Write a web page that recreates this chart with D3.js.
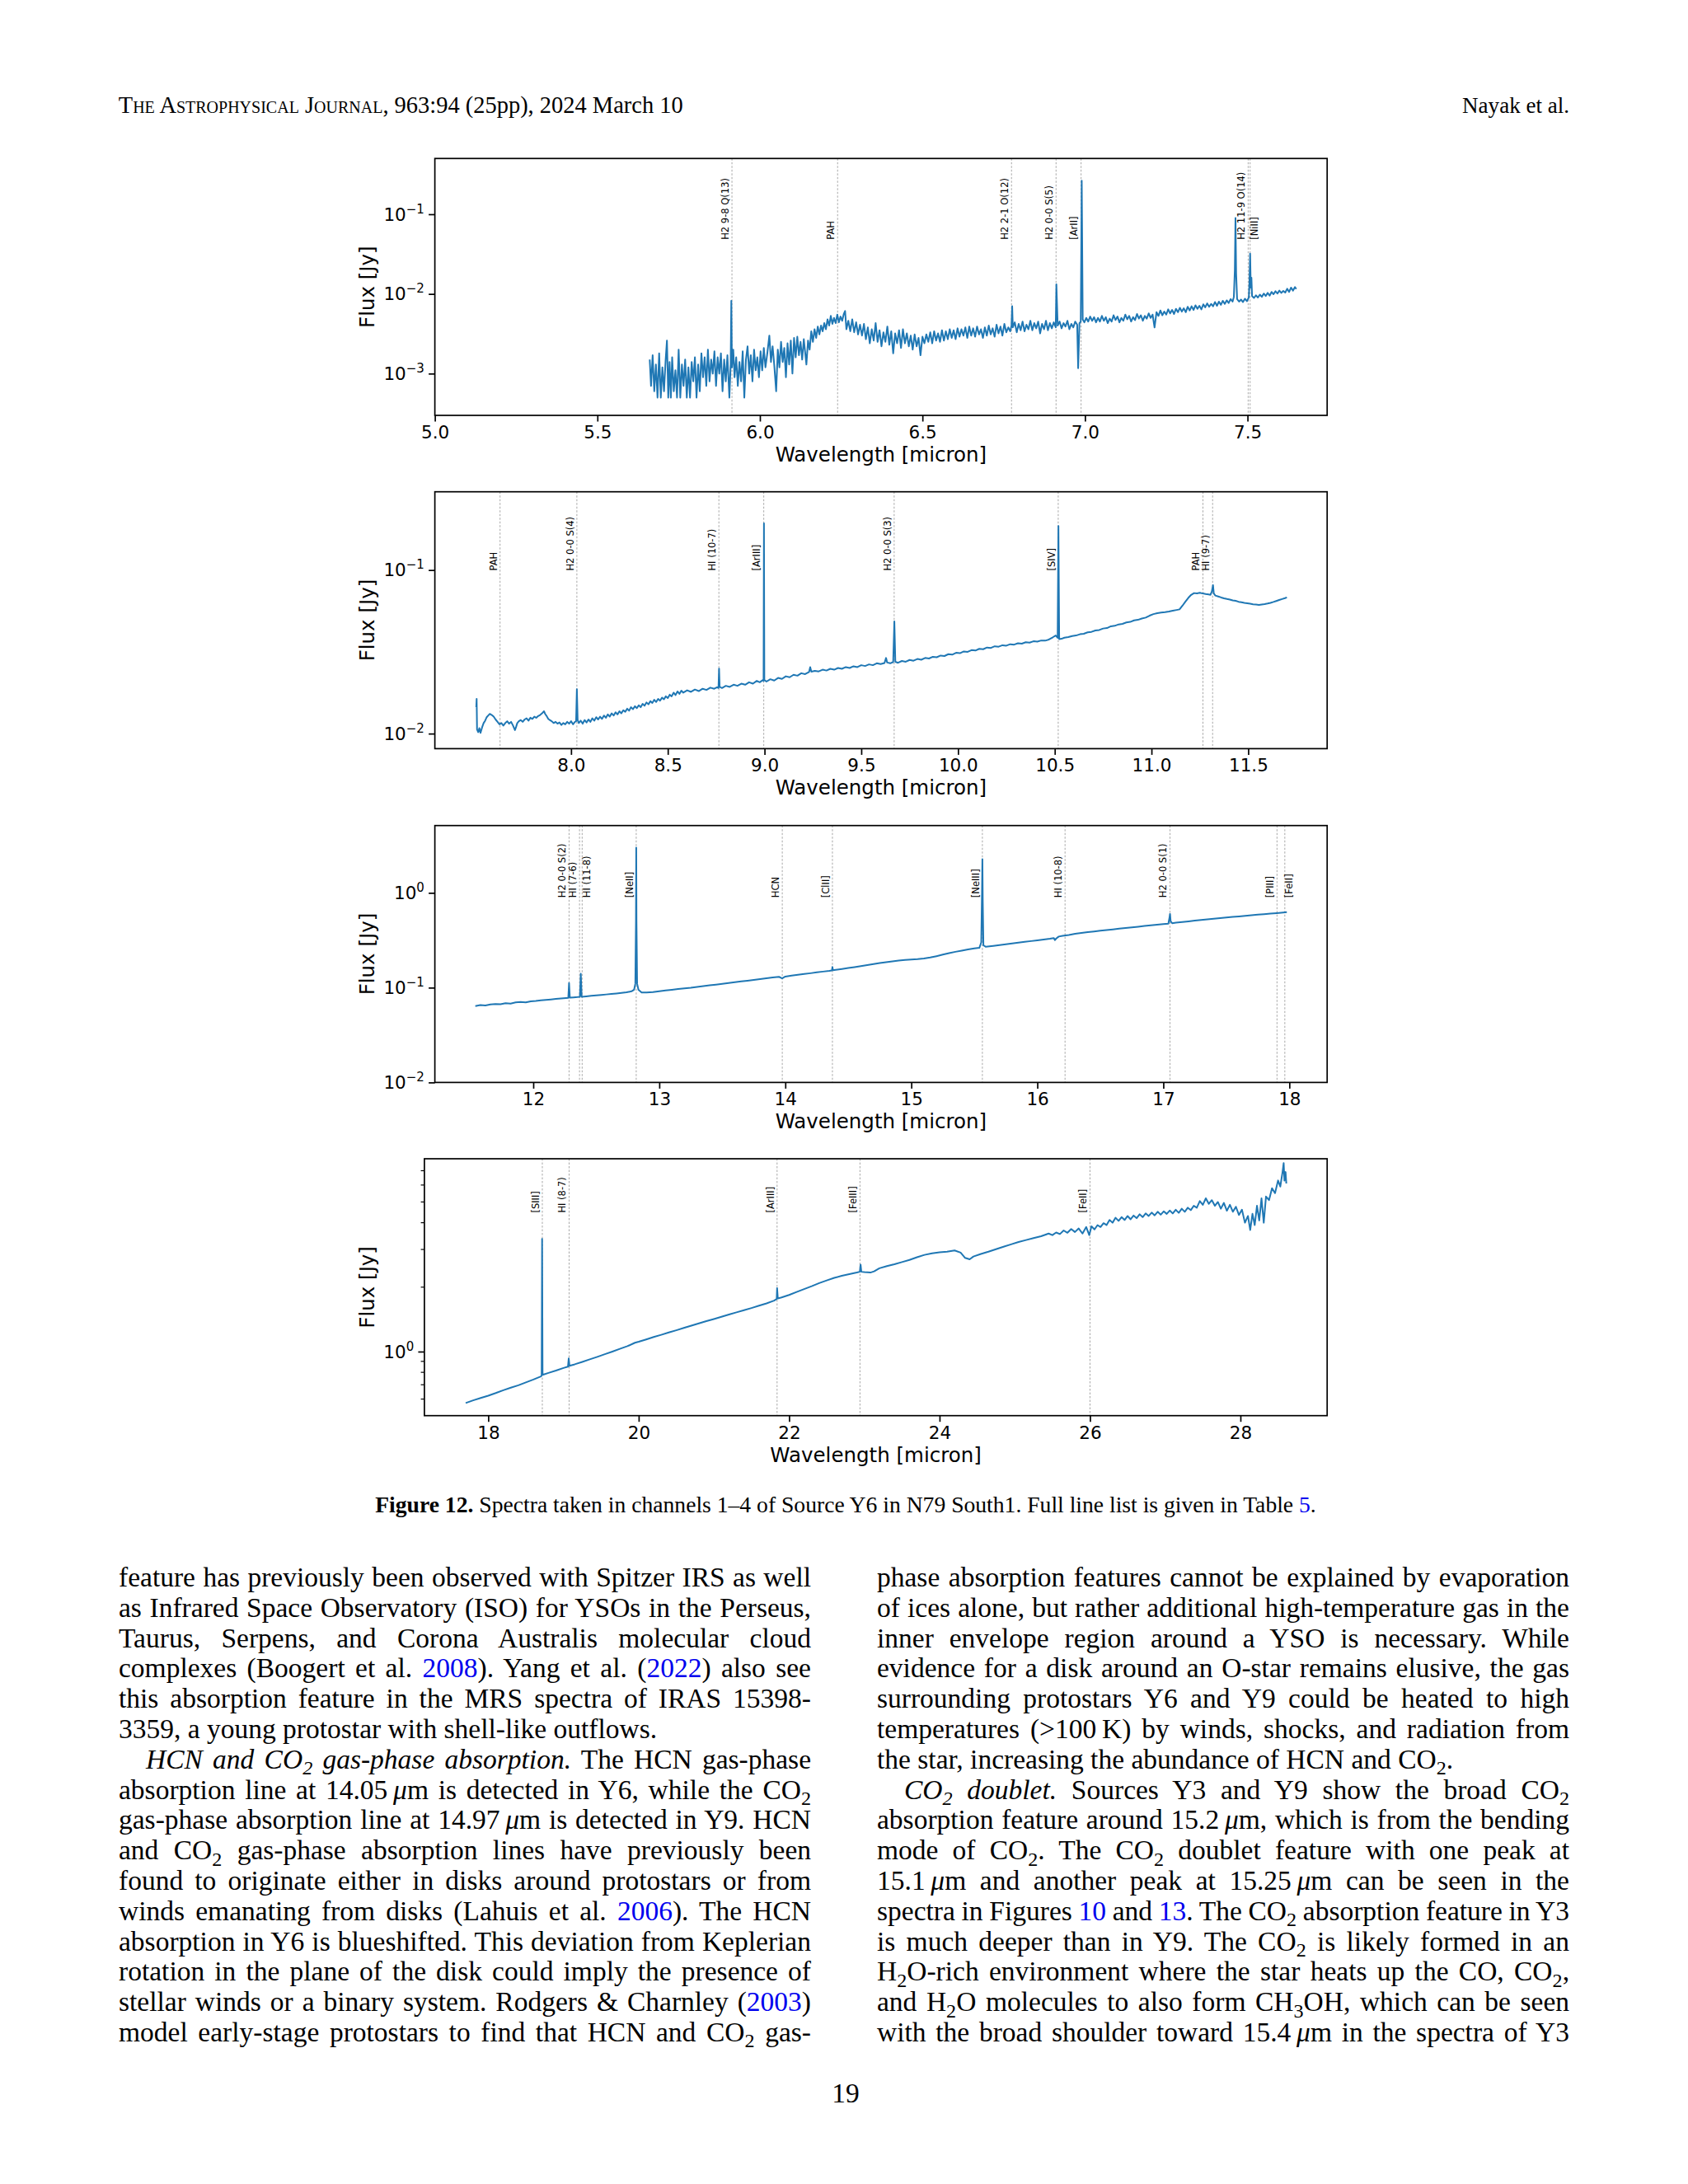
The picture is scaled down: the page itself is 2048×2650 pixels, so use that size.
<!DOCTYPE html>
<html>
<head>
<meta charset="utf-8">
<script src="https://cdn.jsdelivr.net/npm/d3@7"></script>
<style>
  html, body { margin: 0; padding: 0; background: #fff; }
  svg { display: block; }
</style>
</head>
<body>
<div id="chart"></div>
<script>
// ---------------- DATA ----------------
// Channel 1 spectrum: [wavelength (micron), flux (mJy)]
const spec1_mJy = [
[5.661,1.5],[5.665,0.7],[5.670,1.7],[5.675,0.6],[5.680,1.3],[5.685,0.5],[5.690,1.8],[5.695,0.5],[5.700,1.2],[5.705,0.6],
[5.710,1.5],[5.714,2.6],[5.718,0.5],[5.722,1.4],[5.726,0.5],[5.730,1.6],[5.735,0.6],[5.740,1.1],[5.745,0.5],[5.750,2.0],
[5.755,0.5],[5.760,1.3],[5.765,0.7],[5.770,1.5],[5.775,0.5],[5.780,1.2],[5.785,0.5],[5.790,1.4],[5.795,0.8],[5.800,1.6],
[5.805,0.5],[5.810,1.3],[5.815,0.6],[5.820,1.8],[5.825,0.9],[5.830,1.6],[5.835,0.7],[5.840,2.0],[5.845,0.8],[5.850,1.5],
[5.855,1.0],[5.860,1.9],[5.865,0.7],[5.870,1.6],[5.875,1.0],[5.880,1.8],[5.885,0.6],[5.890,1.5],[5.895,0.8],[5.900,1.7],
[5.906,0.5],[5.910,1.3],[5.912,8.2],[5.914,1.2],[5.918,2.0],[5.922,0.9],[5.927,1.6],[5.932,0.7],[5.937,1.4],[5.942,0.8],
[5.947,1.9],[5.952,0.5],[5.957,1.5],[5.962,2.2],[5.967,1.0],[5.972,1.7],[5.977,0.8],[5.982,2.0],[5.987,1.1],[5.992,1.6],
[5.997,0.9],[6.002,1.9],[6.007,1.1],[6.012,2.1],[6.017,1.2],[6.022,1.7],[6.029,3.0],[6.034,1.4],[6.039,2.2],[6.044,1.3],
[6.050,0.6],[6.055,2.0],[6.060,1.2],[6.065,2.5],[6.070,1.4],[6.075,2.1],[6.080,0.9],[6.085,2.4],[6.090,1.3],[6.095,2.6],
[6.100,1.0],[6.105,2.8],[6.110,1.6],[6.115,2.9],[6.120,1.7],[6.125,2.5],[6.130,1.5],[6.135,2.7],[6.143,1.3],[6.148,2.6],
[6.153,2.0],[6.158,3.4],[6.163,2.5],[6.168,3.6],[6.173,2.8],[6.178,3.9],[6.183,3.1],[6.188,4.0],[6.193,3.4],[6.198,4.3],
[6.203,3.6],[6.208,4.8],[6.213,4.0],[6.218,5.3],[6.223,4.2],[6.228,5.0],[6.233,4.3],[6.238,5.5],[6.243,4.4],[6.248,5.2],
[6.253,4.6],[6.258,5.6],[6.262,6.1],[6.266,3.6],[6.272,4.6],[6.278,3.4],[6.284,4.8],[6.290,3.3],[6.296,4.4],[6.302,3.1],
[6.308,4.1],[6.314,3.0],[6.320,4.2],[6.326,2.7],[6.332,3.8],[6.338,2.4],[6.344,3.6],[6.350,2.6],[6.356,4.3],[6.362,2.5],
[6.368,3.5],[6.374,2.2],[6.380,3.3],[6.386,2.5],[6.392,3.9],[6.398,2.3],[6.404,3.4],[6.410,1.8],[6.416,3.2],[6.422,2.4],
[6.428,3.5],[6.434,2.1],[6.440,3.6],[6.446,2.4],[6.452,3.2],[6.458,2.2],[6.464,3.0],[6.470,2.0],[6.476,3.1],[6.482,2.2],
[6.488,2.8],[6.494,1.7],[6.500,2.9],[6.506,2.4],[6.512,3.1],[6.518,2.5],[6.524,3.3],[6.530,2.4],[6.536,3.4],[6.542,2.6],
[6.548,3.2],[6.554,2.5],[6.560,3.5],[6.566,2.6],[6.572,3.4],[6.578,2.7],[6.584,3.6],[6.590,2.8],[6.596,3.5],[6.602,2.7],
[6.608,3.7],[6.614,2.9],[6.620,3.6],[6.626,3.0],[6.632,3.8],[6.638,2.8],[6.644,3.9],[6.650,3.0],[6.656,3.7],[6.662,2.9],
[6.668,3.9],[6.674,3.1],[6.680,3.6],[6.686,2.8],[6.692,3.8],[6.698,3.0],[6.704,4.0],[6.710,3.1],[6.716,3.7],[6.722,2.9],
[6.728,4.1],[6.734,3.2],[6.740,3.9],[6.746,3.0],[6.752,4.2],[6.758,3.3],[6.764,3.8],[6.770,3.4],[6.774,4.0],[6.776,7.0],
[6.778,3.8],[6.784,4.4],[6.790,3.3],[6.796,4.2],[6.802,3.5],[6.808,4.5],[6.814,3.4],[6.820,4.1],[6.826,3.6],[6.832,4.6],
[6.838,3.5],[6.844,4.3],[6.850,3.7],[6.856,4.5],[6.862,3.2],[6.868,4.2],[6.874,3.6],[6.880,4.6],[6.886,3.5],[6.892,4.3],
[6.898,3.7],[6.904,4.4],[6.910,3.8],[6.912,13.2],[6.916,4.0],[6.922,4.5],[6.928,3.7],[6.934,4.3],[6.940,3.9],[6.946,4.6],
[6.952,3.6],[6.958,4.2],[6.964,3.8],[6.970,4.5],[6.976,4.1],[6.979,1.17],[6.983,4.3],[6.987,4.5],[6.990,264],[6.993,4.8],
[6.998,4.4],[7.004,5.0],[7.010,4.5],[7.016,5.2],[7.022,4.6],[7.028,5.1],[7.034,4.4],[7.040,5.0],[7.046,4.5],[7.052,5.3],
[7.058,4.6],[7.064,5.1],[7.070,4.3],[7.076,4.9],[7.082,4.5],[7.088,5.4],[7.094,4.7],[7.100,5.2],[7.106,4.4],[7.112,5.0],
[7.118,4.6],[7.124,5.5],[7.130,4.8],[7.136,5.3],[7.142,4.5],[7.148,5.1],[7.154,4.7],[7.160,5.6],[7.166,4.9],[7.172,5.4],
[7.178,4.6],[7.184,5.3],[7.190,4.9],[7.196,5.7],[7.202,5.0],[7.208,5.5],[7.214,3.8],[7.220,5.9],[7.226,5.3],[7.232,6.2],
[7.238,5.4],[7.244,6.0],[7.250,5.5],[7.256,6.4],[7.262,5.7],[7.268,6.3],[7.274,5.6],[7.280,6.5],[7.286,5.9],[7.292,6.7],
[7.298,6.0],[7.304,6.6],[7.310,5.9],[7.316,6.9],[7.322,6.2],[7.328,7.0],[7.334,6.3],[7.340,7.2],[7.346,6.5],[7.352,7.1],
[7.358,6.4],[7.364,7.4],[7.370,6.8],[7.376,7.6],[7.382,6.9],[7.388,7.5],[7.394,7.0],[7.400,7.9],[7.406,7.1],[7.412,8.0],
[7.418,7.3],[7.424,8.2],[7.430,7.5],[7.436,8.3],[7.442,7.7],[7.448,8.6],[7.454,8.0],[7.458,9.2],[7.461,20],[7.463,90],
[7.465,18],[7.468,8.6],[7.474,8.0],[7.480,8.5],[7.486,7.9],[7.492,8.7],[7.498,8.1],[7.504,9.0],[7.506,14],[7.508,32],
[7.510,12],[7.512,16],[7.514,9.4],[7.520,8.9],[7.526,9.6],[7.532,9.0],[7.538,9.8],[7.544,9.2],[7.550,10.1],[7.556,9.4],
[7.562,10.3],[7.568,9.5],[7.574,10.6],[7.580,9.9],[7.586,10.8],[7.592,10.1],[7.598,11.0],[7.604,10.3],[7.610,10.9],[7.616,10.4],
[7.622,11.6],[7.628,10.6],[7.634,12.0],[7.640,11.0],[7.646,12.2],[7.650,11.5]
];

// Channel 2 spectrum: [wavelength (micron), flux (mJy)]
const spec2_mJy = [
[7.510,14.5],[7.512,16.3],[7.514,10.6],[7.520,10.2],[7.526,10.8],[7.532,10.1],[7.540,10.9],[7.548,11.6],[7.556,12.0],[7.564,12.6],
[7.572,12.9],[7.580,13.2],[7.590,13.0],[7.600,12.7],[7.610,12.2],[7.620,11.8],[7.630,11.4],[7.640,11.6],[7.650,11.2],[7.660,11.6],
[7.670,11.9],[7.680,11.5],[7.690,11.8],[7.700,11.2],[7.710,10.5],[7.716,11.0],[7.722,11.6],[7.730,11.9],[7.740,12.1],[7.750,11.8],
[7.760,12.2],[7.770,12.4],[7.780,12.0],[7.790,12.5],[7.800,12.3],[7.810,12.7],[7.820,12.5],[7.830,12.8],[7.840,13.0],[7.850,13.3],
[7.860,13.7],[7.866,13.2],[7.874,12.8],[7.882,12.3],[7.890,12.1],[7.900,11.9],[7.910,11.6],[7.920,11.8],[7.930,11.5],[7.940,11.7],
[7.950,11.3],[7.960,11.6],[7.970,11.4],[7.980,11.8],[7.990,11.5],[8.000,11.9],[8.010,11.4],[8.020,11.8],[8.026,11.9],[8.030,18.7],
[8.034,12.1],[8.040,11.6],[8.050,12.0],[8.060,11.5],[8.070,12.1],[8.080,11.7],[8.090,12.2],[8.100,11.8],[8.110,12.4],[8.120,12.0],
[8.130,12.6],[8.140,12.2],[8.150,12.7],[8.160,12.3],[8.170,12.9],[8.180,12.5],[8.190,13.1],[8.200,12.7],[8.210,13.3],[8.220,12.9],
[8.230,13.5],[8.240,13.1],[8.250,13.7],[8.260,13.3],[8.270,13.9],[8.280,13.6],[8.290,14.2],[8.300,13.8],[8.310,14.5],[8.320,14.1],
[8.330,14.7],[8.340,14.3],[8.350,14.9],[8.360,14.5],[8.370,15.2],[8.380,14.8],[8.390,15.5],[8.400,15.1],[8.410,15.8],[8.420,15.4],
[8.430,16.1],[8.440,15.6],[8.450,16.3],[8.460,15.9],[8.470,16.6],[8.480,16.2],[8.490,16.9],[8.500,16.5],[8.510,17.3],[8.520,16.9],
[8.530,17.8],[8.540,17.2],[8.550,18.1],[8.560,17.5],[8.570,18.3],[8.580,17.8],[8.600,18.4],[8.620,18.0],[8.640,18.6],[8.660,18.2],
[8.680,18.8],[8.700,18.5],[8.720,19.1],[8.740,18.8],[8.755,19.2],[8.762,19.0],[8.765,25.0],[8.768,19.3],[8.780,19.0],[8.800,19.6],
[8.820,19.3],[8.840,19.9],[8.860,19.6],[8.880,20.2],[8.900,19.9],[8.920,20.6],[8.940,20.2],[8.960,21.0],[8.975,20.6],[8.990,21.2],
[8.995,21.0],[8.997,193],[8.999,21.3],[9.010,20.8],[9.030,21.5],[9.050,21.1],[9.070,21.9],[9.090,21.6],[9.110,22.4],[9.130,22.1],
[9.150,22.9],[9.170,22.6],[9.190,23.4],[9.210,23.1],[9.230,23.8],[9.236,25.5],[9.242,23.9],[9.260,24.2],[9.280,24.0],[9.300,24.6],
[9.320,24.3],[9.340,24.9],[9.360,24.6],[9.380,25.2],[9.400,24.9],[9.420,25.5],[9.440,25.2],[9.460,25.8],[9.480,25.5],[9.500,26.2],
[9.520,25.9],[9.540,26.5],[9.560,26.2],[9.580,26.9],[9.600,26.6],[9.620,27.0],[9.628,29.0],[9.634,27.2],[9.650,26.9],[9.665,27.4],
[9.671,48.5],[9.676,27.5],[9.690,27.1],[9.710,27.8],[9.730,27.5],[9.750,28.2],[9.770,27.9],[9.790,28.6],[9.810,28.3],[9.830,29.0],
[9.850,28.8],[9.870,29.5],[9.890,29.3],[9.910,30.0],[9.930,29.8],[9.950,30.6],[9.970,30.4],[9.990,31.2],[10.010,31.0],[10.030,31.8],
[10.050,31.6],[10.070,32.4],[10.090,32.2],[10.110,33.0],[10.130,32.8],[10.150,33.6],[10.170,33.4],[10.190,34.2],[10.210,34.0],[10.230,34.7],
[10.250,34.5],[10.270,35.2],[10.290,35.0],[10.310,35.7],[10.330,35.5],[10.350,36.2],[10.370,36.0],[10.390,36.7],[10.410,36.5],[10.430,37.1],
[10.450,37.0],[10.470,37.6],[10.490,38.8],[10.505,39.8],[10.515,38.5],[10.519,186],[10.523,37.8],[10.535,38.0],[10.550,38.6],[10.570,38.9],
[10.590,39.5],[10.610,39.8],[10.630,40.5],[10.650,40.8],[10.670,41.6],[10.690,41.9],[10.710,42.7],[10.730,43.0],[10.750,43.9],[10.770,44.2],
[10.790,45.3],[10.810,45.6],[10.830,46.5],[10.850,46.9],[10.870,47.8],[10.890,48.2],[10.910,49.2],[10.930,49.6],[10.950,50.5],[10.970,51.2],
[10.990,52.6],[11.010,53.8],[11.030,54.5],[11.050,54.9],[11.070,55.3],[11.090,55.8],[11.110,56.4],[11.130,57.0],[11.145,57.5],[11.160,60.5],
[11.175,64.0],[11.190,67.5],[11.205,70.5],[11.220,72.3],[11.235,72.0],[11.250,72.6],[11.265,71.9],[11.280,71.4],[11.295,71.0],[11.305,70.6],
[11.312,74],[11.318,80.9],[11.322,72],[11.330,69.8],[11.345,68.9],[11.360,68.0],[11.375,67.2],[11.390,66.5],[11.405,66.0],[11.420,65.2],
[11.435,64.8],[11.450,64.0],[11.465,63.6],[11.480,63.0],[11.495,62.6],[11.510,62.2],[11.525,61.8],[11.540,61.5],[11.555,61.2],[11.570,61.6],
[11.585,61.9],[11.600,62.4],[11.615,63.0],[11.630,63.8],[11.645,64.7],[11.660,65.6],[11.675,66.5],[11.690,67.3],[11.700,68.0]
];

// Channel 3 spectrum: [wavelength (micron), flux (Jy)]
const spec3_Jy = [
[11.540,0.0640],[11.580,0.0655],[11.620,0.0650],[11.660,0.0665],[11.700,0.0672],[11.740,0.0668],[11.780,0.0685],[11.820,0.0680],
[11.860,0.0698],[11.900,0.0705],[11.940,0.0700],[11.980,0.0718],[12.020,0.0725],[12.060,0.0735],[12.100,0.0742],[12.140,0.0750],
[12.180,0.0760],[12.220,0.0770],[12.260,0.0778],[12.278,0.0782],[12.284,0.112],[12.290,0.0785],[12.320,0.0790],[12.350,0.0795],
[12.370,0.0800],[12.377,0.140],[12.384,0.0802],[12.420,0.0810],[12.460,0.0820],[12.500,0.0830],[12.540,0.0838],[12.580,0.0848],
[12.620,0.0858],[12.660,0.0868],[12.700,0.0880],[12.740,0.0892],[12.780,0.0915],[12.800,0.0950],[12.810,0.110],[12.815,0.50],
[12.817,3.0],[12.819,0.50],[12.824,0.110],[12.835,0.095],[12.860,0.0890],[12.900,0.0888],[12.950,0.0900],[13.000,0.0918],
[13.050,0.0935],[13.100,0.0950],[13.150,0.0968],[13.200,0.0985],[13.250,0.1000],[13.300,0.1020],[13.350,0.1038],[13.400,0.1058],
[13.450,0.1078],[13.500,0.1098],[13.550,0.1120],[13.600,0.1142],[13.650,0.1165],[13.700,0.1185],[13.750,0.1208],[13.800,0.1230],
[13.850,0.1255],[13.900,0.1280],[13.950,0.1300],[13.975,0.1255],[14.000,0.1310],[14.050,0.1340],[14.100,0.1368],[14.150,0.1395],
[14.200,0.1420],[14.250,0.1450],[14.300,0.1478],[14.350,0.1505],[14.370,0.1520],[14.374,0.1650],[14.378,0.1530],[14.400,0.1545],
[14.450,0.1575],[14.500,0.1610],[14.550,0.1648],[14.600,0.1690],[14.650,0.1730],[14.700,0.1772],[14.750,0.1815],[14.800,0.1858],
[14.850,0.1895],[14.900,0.1930],[14.950,0.1958],[15.000,0.1980],[15.050,0.2000],[15.100,0.2030],[15.150,0.2080],[15.200,0.2150],
[15.250,0.2230],[15.300,0.2310],[15.350,0.2390],[15.400,0.2460],[15.450,0.2530],[15.500,0.2590],[15.540,0.2630],[15.555,0.300],
[15.561,1.0],[15.564,2.27],[15.567,0.80],[15.572,0.280],[15.590,0.2700],[15.650,0.2760],[15.700,0.2810],[15.750,0.2865],
[15.800,0.2920],[15.850,0.2980],[15.900,0.3040],[15.950,0.3100],[16.000,0.3160],[16.050,0.3220],[16.100,0.3290],[16.130,0.3340],
[16.140,0.3180],[16.150,0.3300],[16.170,0.3460],[16.200,0.3520],[16.250,0.3600],[16.300,0.3700],[16.350,0.3780],[16.400,0.3860],
[16.450,0.3920],[16.500,0.3985],[16.550,0.4050],[16.600,0.4120],[16.650,0.4190],[16.700,0.4260],[16.750,0.4330],[16.800,0.4400],
[16.850,0.4470],[16.900,0.4540],[16.950,0.4610],[17.000,0.4680],[17.040,0.4730],[17.050,0.560],[17.053,0.600],[17.058,0.500],
[17.070,0.4790],[17.100,0.4850],[17.150,0.4930],[17.200,0.5010],[17.250,0.5090],[17.300,0.5170],[17.350,0.5250],[17.400,0.5330],
[17.450,0.5410],[17.500,0.5490],[17.550,0.5570],[17.600,0.5650],[17.650,0.5730],[17.700,0.5810],[17.750,0.5890],[17.800,0.5970],
[17.850,0.6050],[17.900,0.6120],[17.950,0.6200],[17.980,0.6250]
];

// Channel 4 spectrum: [wavelength (micron), flux (Jy)]
const spec4_Jy = [
[17.70,0.575],[17.80,0.592],[17.90,0.607],[18.00,0.622],[18.10,0.640],[18.20,0.660],[18.30,0.678],[18.40,0.696],[18.50,0.718],
[18.60,0.740],[18.70,0.765],[18.710,0.772],[18.716,3.36],[18.722,0.79],[18.730,0.780],[18.80,0.795],[18.90,0.815],[19.00,0.838],
[19.060,0.850],[19.070,0.930],[19.080,0.858],[19.15,0.872],[19.25,0.895],[19.35,0.920],[19.45,0.945],[19.55,0.972],[19.65,1.000],
[19.75,1.030],[19.85,1.060],[19.95,1.100],[20.00,1.112],[20.10,1.140],[20.20,1.170],[20.30,1.198],[20.40,1.228],[20.50,1.258],
[20.60,1.290],[20.70,1.322],[20.80,1.355],[20.90,1.388],[21.00,1.420],[21.10,1.455],[21.20,1.490],[21.30,1.525],[21.40,1.560],
[21.50,1.598],[21.60,1.640],[21.70,1.680],[21.80,1.730],[21.835,1.760],[21.840,1.980],[21.850,1.770],[21.900,1.790],[22.00,1.840],
[22.10,1.900],[22.20,1.960],[22.30,2.020],[22.40,2.090],[22.50,2.150],[22.60,2.210],[22.70,2.260],[22.80,2.300],[22.90,2.340],
[22.940,2.360],[22.950,2.550],[22.960,2.360],[23.00,2.350],[23.08,2.340],[23.13,2.370],[23.20,2.450],[23.30,2.510],[23.40,2.560],
[23.50,2.620],[23.60,2.680],[23.70,2.760],[23.80,2.830],[23.90,2.880],[24.00,2.910],[24.10,2.930],[24.20,2.970],[24.28,2.900],
[24.34,2.740],[24.40,2.700],[24.45,2.780],[24.55,2.860],[24.65,2.930],[24.75,3.010],[24.85,3.090],[24.95,3.170],[25.05,3.250],
[25.15,3.320],[25.25,3.390],[25.35,3.460],[25.45,3.560],[25.50,3.500],[25.55,3.600],[25.60,3.540],[25.65,3.680],[25.70,3.590],
[25.75,3.740],[25.80,3.620],[25.85,3.760],[25.90,3.560],[25.95,3.820],[25.99,3.500],[26.02,3.850],[26.06,3.720],[26.10,3.900],
[26.14,3.820],[26.18,3.980],[26.22,3.900],[26.26,4.120],[26.30,4.000],[26.34,4.220],[26.38,4.080],[26.42,4.250],[26.46,4.120],
[26.50,4.300],[26.54,4.150],[26.58,4.320],[26.62,4.200],[26.66,4.380],[26.70,4.250],[26.74,4.420],[26.78,4.300],[26.82,4.460],
[26.86,4.330],[26.90,4.500],[26.94,4.360],[26.98,4.520],[27.02,4.400],[27.06,4.560],[27.10,4.420],[27.14,4.600],[27.18,4.450],
[27.22,4.650],[27.26,4.500],[27.30,4.700],[27.34,4.580],[27.38,4.800],[27.42,4.700],[27.46,5.050],[27.50,4.850],[27.54,5.200],
[27.58,4.900],[27.62,5.100],[27.66,4.800],[27.70,5.000],[27.74,4.650],[27.78,4.950],[27.82,4.550],[27.86,4.850],[27.90,4.500],
[27.94,4.750],[27.98,4.350],[28.02,4.600],[28.06,4.000],[28.10,4.300],[28.13,3.700],[28.16,4.400],[28.19,3.900],[28.22,4.800],
[28.25,4.100],[28.28,5.200],[28.31,4.000],[28.34,5.300],[28.38,5.100],[28.42,5.800],[28.46,5.500],[28.50,6.300],[28.53,5.900],
[28.56,6.900],[28.575,7.600],[28.585,6.300],[28.60,6.900],[28.61,6.100]
];

// Line identifications: [label, wavelength (micron)]
const lines1 = [["H2 9-8 Q(13)",5.914],["PAH",6.239],["H2 2-1 O(12)",6.774],["H2 0-0 S(5)",6.911],["[ArII]",6.988],["H2 11-9 O(14)",7.502],["[NiII]",7.508]];
const lines2 = [["PAH",7.633],["H2 0-0 S(4)",8.030],["HI (10-7)",8.764],["[ArIII]",8.996],["H2 0-0 S(3)",9.670],["[SIV]",10.518],["PAH",11.266],["HI (9-7)",11.316]];
const lines3 = [["H2 0-0 S(2)",12.284],["HI (7-6)",12.367],["HI (11-8)",12.388],["[NeII]",12.817],["HCN",13.976],["[ClII]",14.374],["[NeIII]",15.564],["HI (10-8)",16.220],["H2 0-0 S(1)",17.053],["[PIII]",17.902],["[FeII]",17.964]];
const lines4 = [["[SIII]",18.719],["HI (8-7)",19.075],["[ArIII]",21.840],["[FeIII]",22.942],["[FeII]",26.000]];

// Axis limits and ticks
const xLim1 = [5.0, 7.745],  yLim1 = [2.99e-4, 0.501];
const xLim2 = [7.296, 11.908], yLim2 = [8.09e-3, 0.301];
const xLim3 = [11.219, 18.30], yLim3 = [0.01, 5.13];
const xLim4 = [17.151, 29.153], yLim4 = [0.502, 7.96];
const xTicks1 = [5.0, 5.5, 6.0, 6.5, 7.0, 7.5];
const xTicks2 = [8.0, 8.5, 9.0, 9.5, 10.0, 10.5, 11.0, 11.5];
const xTicks3 = [12, 13, 14, 15, 16, 17, 18];
const xTicks4 = [18, 20, 22, 24, 26, 28];
const yTicks1 = [1e-3, 1e-2, 1e-1];
const yTicks2 = [1e-2, 1e-1];
const yTicks3 = [1e-2, 1e-1, 1];
const yTicks4 = [1];
const yMinor4 = [0.6, 0.7, 0.8, 0.9, 2, 3, 4, 5, 6, 7];
// flux level (Jy) where the rotated line labels start
const labelLevel = [0.048, 0.099, 0.89, 4.45];

const xLabelText = "Wavelength [micron]";
const yLabelText = "Flux [Jy]";

// Page text
const headerLeft = "The Astrophysical Journal";
const headerRest = ", 963:94 (25pp), 2024 March 10";
const headerRight = "Nayak et al.";
const captionText = "<b>Figure 12.</b> Spectra taken in channels 1–4 of Source Y6 in N79 South1. Full line list is given in Table <a>5</a>.";
const pageNumber = "19";
// [text, justified, indented]
const colLeft = [
 ["feature has previously been observed with Spitzer IRS as well", true, false],
 ["as Infrared Space Observatory (ISO) for YSOs in the Perseus,", true, false],
 ["Taurus, Serpens, and Corona Australis molecular cloud", true, false],
 ["complexes (Boogert et al. <a>2008</a>). Yang et al. (<a>2022</a>) also see", true, false],
 ["this absorption feature in the MRS spectra of IRAS 15398-", true, false],
 ["3359, a young protostar with shell-like outflows.", false, false],
 ["<i>HCN and CO<sub>2</sub> gas-phase absorption.</i> The HCN gas-phase", true, true],
 ["absorption line at 14.05\u2009<i>μ</i>m is detected in Y6, while the CO<sub>2</sub>", true, false],
 ["gas-phase absorption line at 14.97\u2009<i>μ</i>m is detected in Y9. HCN", true, false],
 ["and CO<sub>2</sub> gas-phase absorption lines have previously been", true, false],
 ["found to originate either in disks around protostars or from", true, false],
 ["winds emanating from disks (Lahuis et al. <a>2006</a>). The HCN", true, false],
 ["absorption in Y6 is blueshifted. This deviation from Keplerian", true, false],
 ["rotation in the plane of the disk could imply the presence of", true, false],
 ["stellar winds or a binary system. Rodgers & Charnley (<a>2003</a>)", true, false],
 ["model early-stage protostars to find that HCN and CO<sub>2</sub> gas-", true, false]
];
const colRight = [
 ["phase absorption features cannot be explained by evaporation", true, false],
 ["of ices alone, but rather additional high-temperature gas in the", true, false],
 ["inner envelope region around a YSO is necessary. While", true, false],
 ["evidence for a disk around an O-star remains elusive, the gas", true, false],
 ["surrounding protostars Y6 and Y9 could be heated to high", true, false],
 ["temperatures (>100\u2009K) by winds, shocks, and radiation from", true, false],
 ["the star, increasing the abundance of HCN and CO<sub>2</sub>.", false, false],
 ["<i>CO<sub>2</sub> doublet.</i> Sources Y3 and Y9 show the broad CO<sub>2</sub>", true, true],
 ["absorption feature around 15.2\u2009<i>μ</i>m, which is from the bending", true, false],
 ["mode of CO<sub>2</sub>. The CO<sub>2</sub> doublet feature with one peak at", true, false],
 ["15.1\u2009<i>μ</i>m and another peak at 15.25\u2009<i>μ</i>m can be seen in the", true, false],
 ["spectra in Figures <a>10</a> and <a>13</a>. The CO<sub>2</sub> absorption feature in Y3", true, false],
 ["is much deeper than in Y9. The CO<sub>2</sub> is likely formed in an", true, false],
 ["H<sub>2</sub>O-rich environment where the star heats up the CO, CO<sub>2</sub>,", true, false],
 ["and H<sub>2</sub>O molecules to also form CH<sub>3</sub>OH, which can be seen", true, false],
 ["with the broad shoulder toward 15.4\u2009<i>μ</i>m in the spectra of Y3", true, false]
];

// ---------------- LAYOUT ----------------
const W = 2048, Hpage = 2650;
const AX_FONT = "'DejaVu Sans', sans-serif";
const PG_FONT = "'Liberation Serif', 'Times New Roman', serif";
const LINK = "#0000ee";
const BLUE = "#1f77b4";
const RIGHT = 1610.2, PH = 311.7;
const TICK_FS = 21.5, LAB_FS = 24.5, LINE_FS = 11.5;

const panels = [
  {spec: spec1_mJy, unit: 1e-3, xLim: xLim1, yLim: yLim1, xTicks: xTicks1, yTicks: yTicks1, yMinor: [], fmt: ".1f", lines: lines1, lab: labelLevel[0], left: 527.6, top: 192.3},
  {spec: spec2_mJy, unit: 1e-3, xLim: xLim2, yLim: yLim2, xTicks: xTicks2, yTicks: yTicks2, yMinor: [], fmt: ".1f", lines: lines2, lab: labelLevel[1], left: 527.6, top: 596.7},
  {spec: spec3_Jy, unit: 1, xLim: xLim3, yLim: yLim3, xTicks: xTicks3, yTicks: yTicks3, yMinor: [], fmt: "d", lines: lines3, lab: labelLevel[2], left: 527.6, top: 1001.7},
  {spec: spec4_Jy, unit: 1, xLim: xLim4, yLim: yLim4, xTicks: xTicks4, yTicks: yTicks4, yMinor: yMinor4, fmt: "d", lines: lines4, lab: labelLevel[3], left: 514.9, top: 1406.0}
];

const svg = d3.select("#chart").append("svg").attr("width", W).attr("height", Hpage);
svg.append("rect").attr("width", W).attr("height", Hpage).attr("fill", "#fff");

panels.forEach((p, i) => {
  const x = d3.scaleLinear().domain(p.xLim).range([p.left, RIGHT]);
  const y = d3.scaleLog().domain(p.yLim).range([p.top + PH, p.top]);
  const g = svg.append("g");
  const clipId = "clip" + i;
  g.append("clipPath").attr("id", clipId).append("rect")
    .attr("x", p.left).attr("y", p.top).attr("width", RIGHT - p.left).attr("height", PH);

  // vertical line markers
  g.selectAll("line.mark").data(p.lines).join("line").attr("class", "mark")
    .attr("x1", d => x(d[1])).attr("x2", d => x(d[1]))
    .attr("y1", p.top).attr("y2", p.top + PH)
    .attr("stroke", "#a8a8a8").attr("stroke-width", 1).attr("stroke-dasharray", "2.5,2");

  // spectrum
  const line = d3.line().x(d => x(d[0])).y(d => y(d[1] * p.unit));
  g.append("path").datum(p.spec).attr("d", line).attr("clip-path", `url(#${clipId})`)
    .attr("fill", "none").attr("stroke", BLUE).attr("stroke-width", 2)
    .attr("stroke-linejoin", "round");

  // line labels (rotated), shifted to the right of the marker if they would overlap the previous one
  let prevRight = -Infinity;
  p.lines.forEach(([name, w]) => {
    const lx = x(w);
    let base = lx - 4.2;
    let leftEdge = base - 0.76 * LINE_FS;
    if (leftEdge < prevRight - 1) {
      leftEdge = lx + 0.5;
      base = leftEdge + 0.76 * LINE_FS;
    }
    prevRight = base + 0.24 * LINE_FS;
    g.append("text").attr("transform", `translate(${base},${y(p.lab)}) rotate(-90)`)
      .attr("font-family", AX_FONT).attr("font-size", LINE_FS).attr("fill", "#000")
      .text(name);
  });

  // x axis
  const xa = g.append("g").attr("transform", `translate(0,${p.top + PH})`)
    .call(d3.axisBottom(x).tickValues(p.xTicks).tickSize(7.5).tickPadding(5.2).tickFormat(d3.format(p.fmt)));
  xa.select(".domain").remove();
  xa.selectAll("line").attr("stroke", "#000").attr("stroke-width", 1.7);
  xa.selectAll("text").attr("font-family", AX_FONT).attr("font-size", TICK_FS).attr("fill", "#000");

  // y axis (major ticks, labels as 10^n)
  const ya = g.append("g").attr("transform", `translate(${p.left},0)`)
    .call(d3.axisLeft(y).tickValues(p.yTicks).tickSize(7.5).tickFormat(""));
  ya.select(".domain").remove();
  ya.selectAll("line").attr("stroke", "#000").attr("stroke-width", 1.7);
  p.yTicks.forEach(v => {
    const e = Math.round(Math.log10(v));
    const t = g.append("text").attr("x", p.left - 12.7).attr("y", y(v) + 7.8)
      .attr("text-anchor", "end").attr("font-family", AX_FONT).attr("font-size", TICK_FS).attr("fill", "#000");
    t.append("tspan").text("10");
    t.append("tspan").attr("dy", -9).attr("font-size", 15).text(e < 0 ? "\u2212" + (-e) : String(e));
  });
  // minor y ticks
  g.selectAll("line.minor").data(p.yMinor).join("line").attr("class", "minor")
    .attr("x1", p.left - 4.3).attr("x2", p.left).attr("y1", d => y(d)).attr("y2", d => y(d))
    .attr("stroke", "#000").attr("stroke-width", 1.2);

  // frame
  g.append("rect").attr("x", p.left).attr("y", p.top).attr("width", RIGHT - p.left).attr("height", PH)
    .attr("fill", "none").attr("stroke", "#000").attr("stroke-width", 1.7);

  // axis labels
  g.append("text").attr("x", (p.left + RIGHT) / 2).attr("y", p.top + PH + 56)
    .attr("text-anchor", "middle").attr("font-family", AX_FONT).attr("font-size", LAB_FS).attr("fill", "#000")
    .text(xLabelText);
  g.append("text").attr("transform", `translate(454,${p.top + PH / 2}) rotate(-90)`)
    .attr("text-anchor", "middle").attr("font-family", AX_FONT).attr("font-size", LAB_FS).attr("fill", "#000")
    .text(yLabelText);
});

// ---------------- PAGE TEXT ----------------
function richText(parent, str, xPos, yPos, fs, anchor) {
  const t = parent.append("text").attr("x", xPos).attr("y", yPos)
    .attr("font-family", PG_FONT).attr("font-size", fs).attr("fill", "#000");
  if (anchor) t.attr("text-anchor", anchor);
  const parts = str.split(/(<\/?(?:i|sub|a|b)>)/);
  const st = {i: false, sub: false, a: false, b: false};
  let shift = 0;
  parts.forEach(part => {
    const m = part.match(/^<(\/?)(i|sub|a|b)>$/);
    if (m) { st[m[2]] = !m[1]; return; }
    if (!part) return;
    const ts = t.append("tspan").text(part);
    const target = st.sub ? fs * 0.22 : 0;
    if (target !== shift) { ts.attr("dy", target - shift); shift = target; }
    if (st.sub) ts.attr("font-size", fs * 0.72);
    if (st.i) ts.attr("font-style", "italic");
    if (st.a) ts.attr("fill", LINK);
    if (st.b) ts.attr("font-weight", "bold");
  });
  return t;
}
function fitWidth(t, target, fs) {
  const w = t.node().getComputedTextLength();
  if (w > 0) {
    const nf = fs * target / w;
    t.attr("font-size", nf);
    t.selectAll("tspan").each(function() {
      const s = d3.select(this).attr("font-size");
      if (s) d3.select(this).attr("font-size", +s * nf / fs);
    });
  }
}

// header
const hdr = svg.append("text").attr("x", 143.8).attr("y", 137)
  .attr("font-family", PG_FONT).attr("font-size", 30).attr("fill", "#000");
hdr.append("tspan").style("font-variant", "small-caps").text(headerLeft);
hdr.append("tspan").text(headerRest);
fitWidth(hdr, 684, 30);
const hdrR = svg.append("text").attr("x", 1904).attr("y", 137).attr("text-anchor", "end")
  .attr("font-family", PG_FONT).attr("font-size", 30).attr("fill", "#000").text(headerRight);
fitWidth(hdrR, 130, 30);

// caption
const cap = richText(svg, captionText, 1026, 1835, 30, "middle");
fitWidth(cap, 1142, 30);

// body columns
const BODY_FS = 33.5, LEAD = 36.8, BASE0 = 1925, COLW = 840, INDENT = 33;
function drawColumn(lines, x0) {
  lines.forEach((ln, k) => {
    const [str, just, ind] = ln;
    const xs = x0 + (ind ? INDENT : 0);
    const wAvail = COLW - (ind ? INDENT : 0);
    const t = richText(svg, str, xs, BASE0 + k * LEAD, BODY_FS);
    if (just) {
      const w = t.node().getComputedTextLength();
      const n = (str.replace(/<[^>]+>/g, "").match(/ /g) || []).length;
      if (n > 0) t.style("word-spacing", ((wAvail - w) / n) + "px");
    }
  });
}
drawColumn(colLeft, 144);
drawColumn(colRight, 1064);

// page number
svg.append("text").attr("x", 1026).attr("y", 2551).attr("text-anchor", "middle")
  .attr("font-family", PG_FONT).attr("font-size", BODY_FS).attr("fill", "#000").text(pageNumber);
</script>
</body>
</html>
